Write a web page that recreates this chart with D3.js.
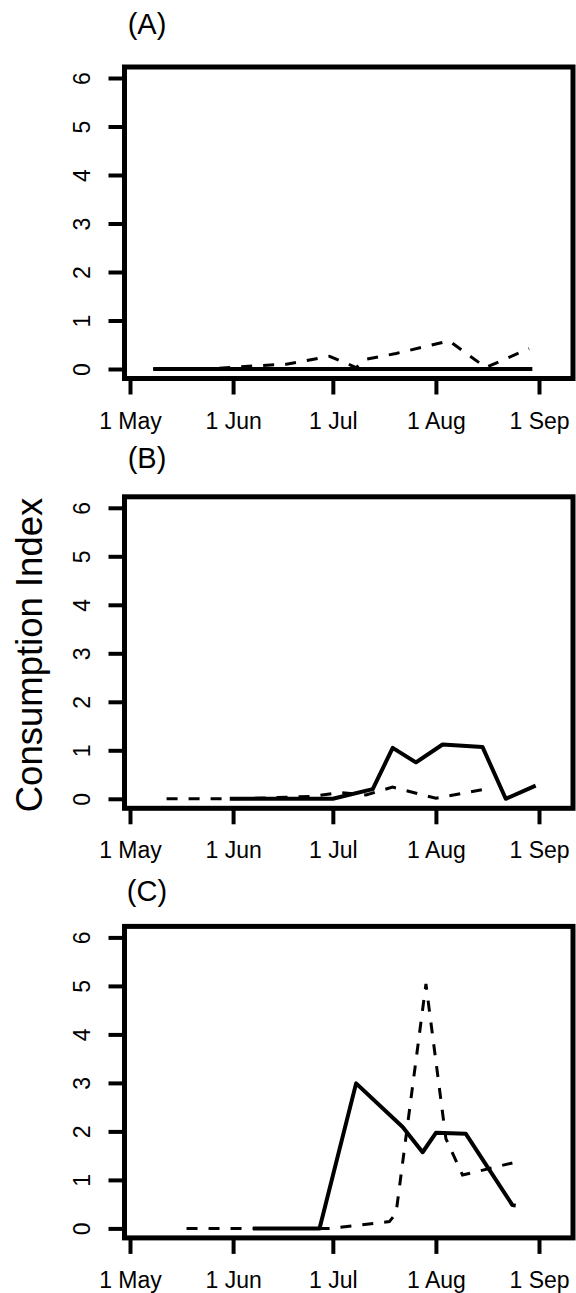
<!DOCTYPE html>
<html>
<head>
<meta charset="utf-8">
<script src="https://cdn.jsdelivr.net/npm/d3@7"></script>
<style>
    body { margin: 0; background: #fff; }
    text { font-family: "Liberation Sans", Arial, sans-serif; fill: #000; }
</style>
</head>
<body>
<svg id="chart" width="576" height="1293"></svg>
<script>
// Data (month-day, consumption index)
const panelNames = ["(A)", "(B)", "(C)"]
const yTicks = [0, 1, 2, 3, 4, 5, 6]
const xTickDates = ["05-01", "06-01", "07-01", "08-01", "09-01"]
const xTickLabels = ["1 May", "1 Jun", "1 Jul", "1 Aug", "1 Sep"]

const solidA = [["05-08", 0], ["05-24", 0], ["06-09", 0], ["06-17", 0], ["06-30", 0], ["07-08", 0],
    ["07-20", 0], ["08-05", 0], ["08-16", 0], ["08-30", 0]]
const dashedA = [["05-08", 0], ["05-24", 0], ["06-09", 0.07], ["06-17", 0.1], ["06-30", 0.26], ["07-08", 0.03],
    ["07-11", 0.2], ["07-20", 0.32], ["07-28", 0.45], ["08-05", 0.58], ["08-16", 0.03], ["08-29", 0.42]]

const solidB = [["05-31", 0], ["06-14", 0], ["07-01", 0], ["07-13", 0.2], ["07-19", 1.05], ["07-26", 0.75],
    ["08-03", 1.12], ["08-15", 1.07], ["08-22", 0], ["08-31", 0.27]]
const dashedB = [["05-12", 0], ["05-31", 0], ["06-12", 0.02], ["06-25", 0.05], ["07-03", 0.13], ["07-11", 0.08],
    ["07-19", 0.24], ["08-01", 0.01], ["08-16", 0.2]]

const solidC = [["06-07", 0], ["06-27", 0], ["07-08", 2.99], ["07-22", 2.09], ["07-28", 1.57], ["08-01", 1.97],
    ["08-10", 1.95], ["08-24", 0.48], ["08-25", 0.47]]
const dashedC = [["05-18", 0], ["06-07", 0], ["06-30", 0], ["07-18", 0.14], ["07-20", 0.31], ["07-29", 5.04],
    ["08-04", 1.85], ["08-09", 1.1], ["08-24", 1.35]]

const solidSeries = [solidA, solidB, solidC]
const dashedSeries = [dashedA, dashedB, dashedC]

// Layout
const parseDate = d3.timeParse("%m-%d")
const box = { left: 124.5, right: 573 }
const zeroY = [369, 798.8, 1228.4]
const unit = 48.5
const titleY = [34, 468, 901]

const svg = d3.select("#chart")

const x = d3.scaleTime()
    .domain([parseDate("05-01"), parseDate("09-01")])
    .range([130, 539])

const drawPanel = (i) => {
    const g = svg.append("g").attr("class", "panel")

    const y = d3.scaleLinear()
        .domain([0, 6])
        .range([zeroY[i], zeroY[i] - 6 * unit])

    const top = y(6) - 11
    const bottom = y(0) + 9.5

    // Panel letter
    g.append("text")
        .attr("x", 147)
        .attr("y", titleY[i])
        .attr("text-anchor", "middle")
        .style("font-size", "29px")
        .text(panelNames[i])

    // Y axis ticks and rotated labels
    const yAxis = d3.axisLeft(y)
        .tickValues(yTicks)
        .tickFormat(d3.format("d"))
        .tickSize(16)
        .tickPadding(0)
    const yG = g.append("g")
        .attr("transform", `translate(${box.left},0)`)
        .call(yAxis)
    yG.select(".domain").remove()
    yG.selectAll(".tick line").attr("stroke", "#000").attr("stroke-width", 4)
    yG.selectAll(".tick text")
        .attr("x", 0).attr("dy", null)
        .attr("transform", "translate(-34.5,0) rotate(-90)")
        .attr("text-anchor", "middle")
        .style("font-size", "23px")

    // X axis ticks
    const xAxis = d3.axisBottom(x)
        .tickValues(xTickDates.map(parseDate))
        .tickFormat((d, k) => xTickLabels[k])
        .tickSize(16)
        .tickPadding(0)
    const xG = g.append("g")
        .attr("transform", `translate(0,${bottom})`)
        .call(xAxis)
    xG.select(".domain").remove()
    xG.selectAll(".tick line").attr("stroke", "#000").attr("stroke-width", 4)
    xG.selectAll(".tick text")
        .attr("y", 50).attr("dy", null)
        .style("font-size", "23px")

    // Lines
    const line = d3.line()
        .x(d => x(parseDate(d[0])))
        .y(d => y(d[1]))

    g.append("path")
        .datum(dashedSeries[i])
        .attr("d", line)
        .attr("fill", "none")
        .attr("stroke", "#000")
        .attr("stroke-width", 3)
        .attr("stroke-dasharray", "11,11")

    g.append("path")
        .datum(solidSeries[i])
        .attr("d", line)
        .attr("fill", "none")
        .attr("stroke", "#000")
        .attr("stroke-width", 4)
        .attr("stroke-linejoin", "round")

    // Frame
    g.append("rect")
        .attr("x", box.left)
        .attr("y", top)
        .attr("width", box.right - box.left)
        .attr("height", bottom - top)
        .attr("fill", "none")
        .attr("stroke", "#000")
        .attr("stroke-width", 5)
}

panelNames.forEach((n, i) => drawPanel(i))

// Shared y label
svg.append("text")
    .attr("transform", "translate(42,655) rotate(-90)")
    .attr("text-anchor", "middle")
    .style("font-size", "36.5px")
    .text("Consumption Index")
</script>
</body>
</html>
